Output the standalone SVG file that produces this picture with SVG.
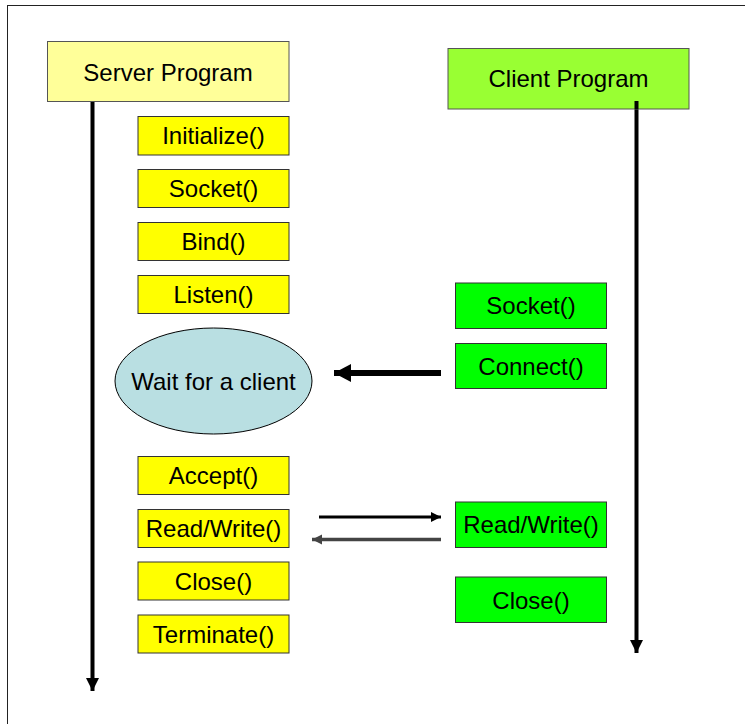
<svg xmlns="http://www.w3.org/2000/svg" width="745" height="724" viewBox="0 0 745 724">
  <style>
    text { font-family: "Liberation Sans", Arial, sans-serif; font-size: 24px; fill: #000; text-anchor: middle; }
    .srv { fill: #ffff00; stroke: #333; stroke-width: 1; }
    .cli { fill: #00ff00; stroke: #333; stroke-width: 1; }
    .life { stroke: #000; stroke-width: 4; fill: none; }
  </style>
  <defs>
    <marker id="lifeHead" markerUnits="userSpaceOnUse" markerWidth="14" markerHeight="14" refX="13" refY="6.5" orient="auto">
      <path d="M0,0 L13,6.5 L0,13 Z" fill="#000"/>
    </marker>
    <marker id="msgHeadDark" markerUnits="userSpaceOnUse" markerWidth="12" markerHeight="12" refX="10" refY="5" orient="auto">
      <path d="M0,0 L10,5 L0,10 Z" fill="#000"/>
    </marker>
    <marker id="msgHeadGray" markerUnits="userSpaceOnUse" markerWidth="12" markerHeight="12" refX="10" refY="5" orient="auto">
      <path d="M0,0 L10,5 L0,10 Z" fill="#444"/>
    </marker>
    <marker id="bigHead" markerUnits="userSpaceOnUse" markerWidth="20" markerHeight="20" refX="17" refY="9" orient="auto">
      <path d="M0,0 L17,9 L0,18 Z" fill="#000"/>
    </marker>
  </defs>

  <rect width="745" height="724" fill="#fff"/>
  <!-- page frame -->
  <rect x="7.5" y="5.5" width="800" height="800" fill="none" stroke="#222" stroke-width="1"/>

  <!-- connectors -->
  <g id="connectors">
    <line class="life" x1="92.5" y1="102" x2="92.5" y2="691" marker-end="url(#lifeHead)"/>
    <line class="life" x1="636.5" y1="101" x2="636.5" y2="653" marker-end="url(#lifeHead)"/>
    <line x1="441" y1="373" x2="334" y2="373" stroke="#000" stroke-width="6" marker-end="url(#bigHead)"/>
    <line x1="319" y1="517" x2="441" y2="517" stroke="#000" stroke-width="3" marker-end="url(#msgHeadDark)"/>
    <line x1="441" y1="539.5" x2="312" y2="539.5" stroke="#444" stroke-width="3.5" marker-end="url(#msgHeadGray)"/>
  </g>

  <g id="server-program">
    <rect x="47.5" y="41.5" width="241.5" height="60" fill="#ffff99" stroke="#555" stroke-width="1"/>
    <text x="168" y="80.5">Server Program</text>
  </g>
  <g id="client-program">
    <rect x="448" y="48.5" width="241" height="60.5" fill="#99ff33" stroke="#555" stroke-width="1"/>
    <rect x="634.5" y="101" width="4" height="8" fill="#000"/>
    <text x="568.5" y="87">Client Program</text>
  </g>

  <g id="srv-initialize">
    <rect class="srv" x="138" y="116.5" width="151" height="38.5"/>
    <text x="213.5" y="144">Initialize()</text>
  </g>
  <g id="srv-socket">
    <rect class="srv" x="138" y="169.5" width="151" height="38"/>
    <text x="213.5" y="197">Socket()</text>
  </g>
  <g id="srv-bind">
    <rect class="srv" x="138" y="222.5" width="151" height="38"/>
    <text x="213.5" y="250">Bind()</text>
  </g>
  <g id="srv-listen">
    <rect class="srv" x="138" y="275.5" width="151" height="38"/>
    <text x="213.5" y="303">Listen()</text>
  </g>

  <g id="wait-client">
    <ellipse cx="213.5" cy="381" rx="98.5" ry="53" fill="#b9dfe2" stroke="#000" stroke-width="1"/>
    <text x="213.5" y="389.5">Wait for a client</text>
  </g>

  <g id="srv-accept">
    <rect class="srv" x="138" y="456.5" width="151" height="38"/>
    <text x="213.5" y="484">Accept()</text>
  </g>
  <g id="srv-readwrite">
    <rect class="srv" x="138" y="509.5" width="151" height="38"/>
    <text x="213.5" y="537">Read/Write()</text>
  </g>
  <g id="srv-close">
    <rect class="srv" x="138" y="562" width="151" height="38"/>
    <text x="213.5" y="589.5">Close()</text>
  </g>
  <g id="srv-terminate">
    <rect class="srv" x="138" y="615" width="151" height="38"/>
    <text x="213.5" y="642.5">Terminate()</text>
  </g>

  <g id="cli-socket">
    <rect class="cli" x="455.5" y="283" width="151" height="45.5"/>
    <text x="531" y="314">Socket()</text>
  </g>
  <g id="cli-connect">
    <rect class="cli" x="455.5" y="343.5" width="151" height="45"/>
    <text x="531" y="374.5">Connect()</text>
  </g>
  <g id="cli-readwrite">
    <rect class="cli" x="455.5" y="502" width="151" height="45.5"/>
    <text x="531" y="533">Read/Write()</text>
  </g>
  <g id="cli-close">
    <rect class="cli" x="455.5" y="577" width="151" height="45.5"/>
    <text x="531" y="608.5">Close()</text>
  </g>
</svg>
